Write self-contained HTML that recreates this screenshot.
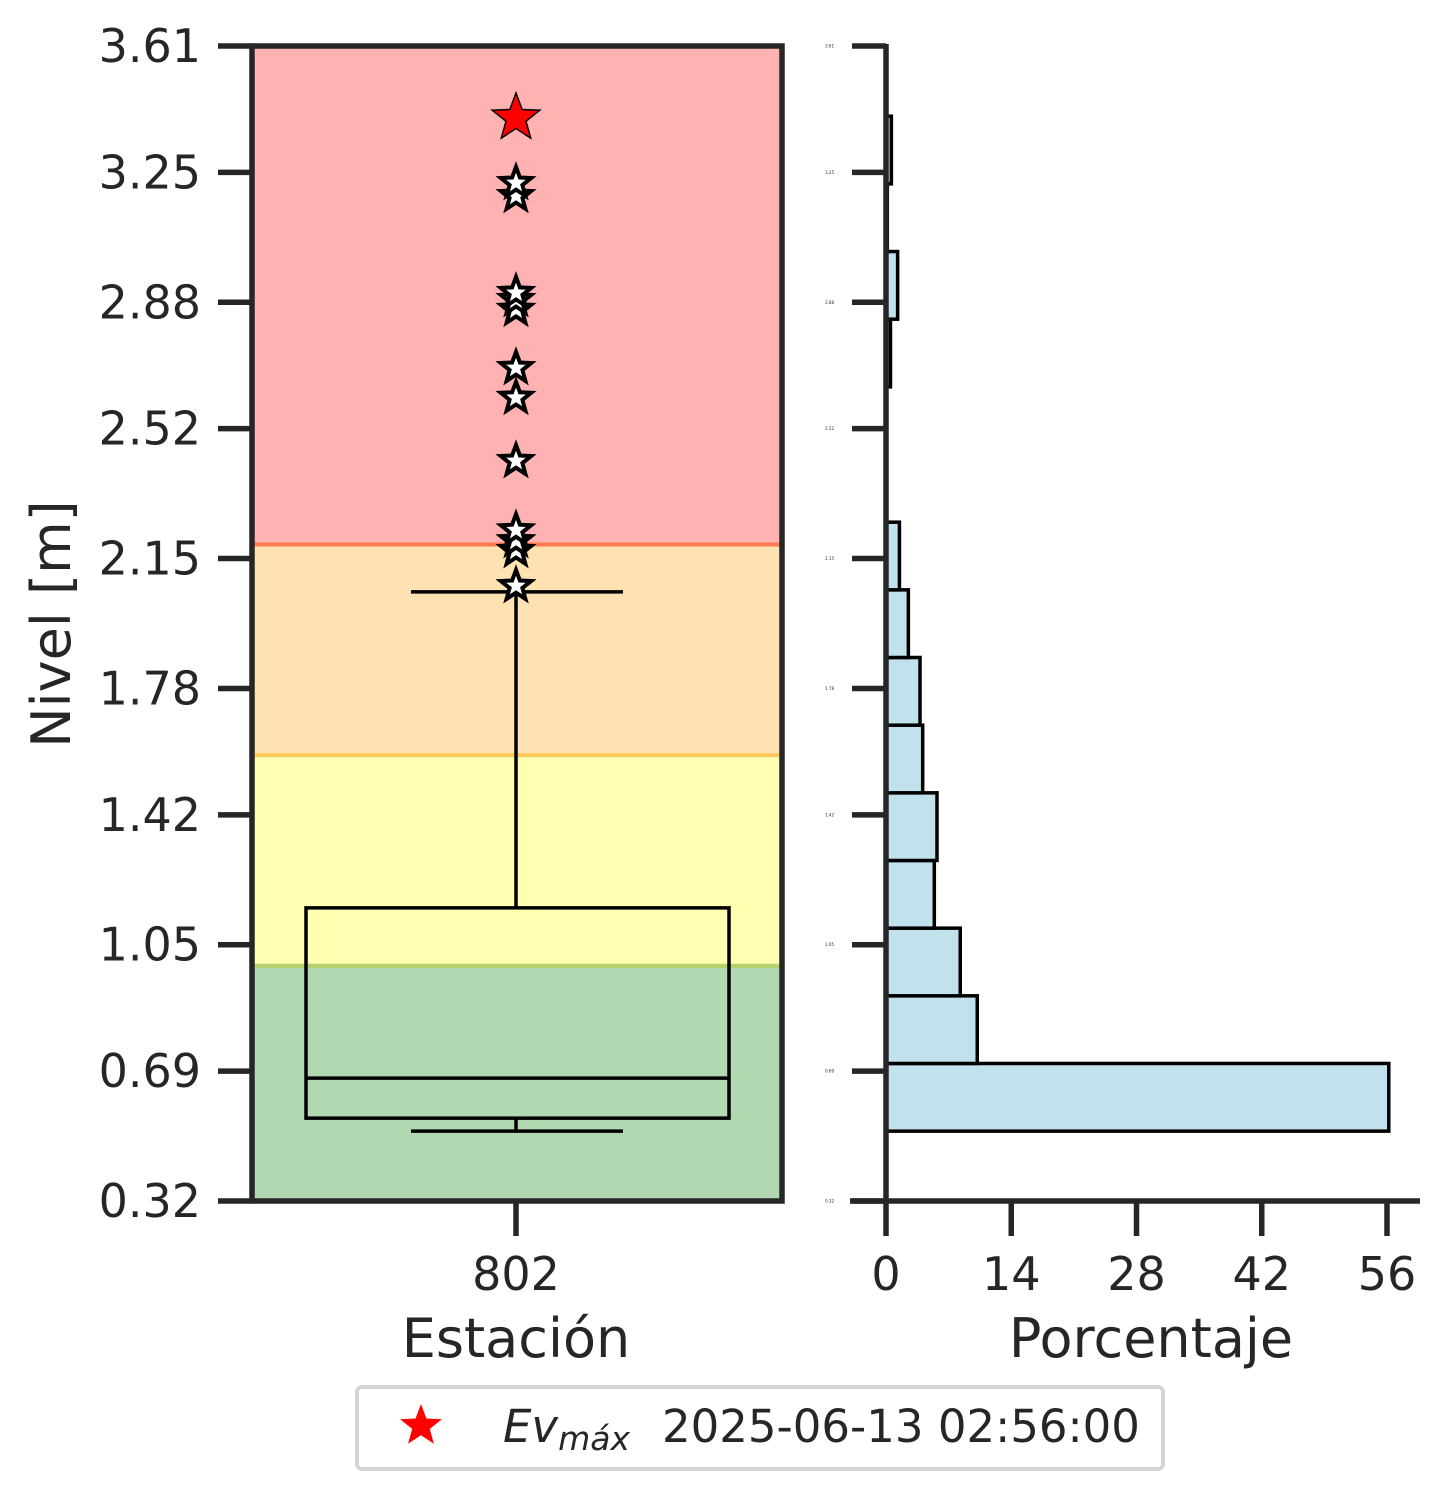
<!DOCTYPE html>
<html><head><meta charset="utf-8"><style>
html,body{margin:0;padding:0;background:#fff}
svg{display:block;font-family:"DejaVu Sans","Liberation Sans",sans-serif}
</style></head><body>
<svg id="c" width="1449" height="1499" viewBox="0 0 1449 1499" xmlns="http://www.w3.org/2000/svg"></svg>
<script>
const yTicks = [0.32, 0.69, 1.05, 1.42, 1.78, 2.15, 2.52, 2.88, 3.25, 3.61];
const yTickLabels = ["0.32","0.69","1.05","1.42","1.78","2.15","2.52","2.88","3.25","3.61"];
const bandEdges = [0.32, 0.99, 1.59, 2.19, 3.61];
const bandFill = ["#b2d8b2","#ffffb2","#ffe2b2","#ffb2b2"];
const bandLine = ["#b5d36a","#ffc95a","#ff7a50"];
const boxStats = {whislo:0.519, q1:0.556, med:0.67, q3:1.155, whishi:2.055};
const fliers = [2.072, 2.172, 2.200, 2.231, 2.428, 2.608, 2.693, 2.859, 2.887, 2.907, 3.183, 3.220];
const maxEvent = 3.405;
const histCounts = [56.2, 10.2, 8.3, 5.4, 5.7, 4.1, 3.8, 2.5, 1.5, 0, 0, 0.5, 1.3, 0.15, 0.6];
const histLo = 0.519, histHi = 3.41;
const xTicks = [0, 14, 28, 42, 56];

const svg = document.getElementById('c');
const NS = 'http://www.w3.org/2000/svg';
function mk(tag, attrs, parent){const e=document.createElementNS(NS,tag);for(const k in attrs)e.setAttribute(k,attrs[k]);(parent||svg).appendChild(e);return e;}
const Y0=1201, Y1=46;
function y(v){return Y0-(v-0.32)/(3.61-0.32)*(Y0-Y1);}
const LX0=252, LX1=782, CX=516;
const HX0=886, HX1=1387;
function hx(p){return HX0+p/56*(HX1-HX0);}

for(let i=0;i<bandFill.length;i++){
  const r=mk('rect',{x:LX0,y:y(bandEdges[i+1]),width:LX1-LX0,height:y(bandEdges[i])-y(bandEdges[i+1]),fill:bandFill[i]});
  
  
}
for(let i=0;i<bandLine.length;i++){
  const l=mk('line',{x1:LX0,x2:LX1,y1:y(bandEdges[i+1]),y2:y(bandEdges[i+1]),stroke:bandLine[i],'stroke-width':4});
  
  
}
const g=mk('g',{stroke:'#000','stroke-width':3.5,fill:'none'});


mk('line',{x1:CX,x2:CX,y1:y(boxStats.q3),y2:y(boxStats.whishi)},g);
mk('line',{x1:CX,x2:CX,y1:y(boxStats.q1),y2:y(boxStats.whislo)},g);
mk('line',{x1:411,x2:623,y1:y(boxStats.whishi),y2:y(boxStats.whishi)},g);
mk('line',{x1:411,x2:623,y1:y(boxStats.whislo),y2:y(boxStats.whislo)},g);
mk('rect',{x:306,width:423,y:y(boxStats.q3),height:y(boxStats.q1)-y(boxStats.q3)},g);
mk('line',{x1:306,x2:729,y1:y(boxStats.med),y2:y(boxStats.med)},g);
function starPts(cx,cy,R){const r=R*0.42;let p=[];for(let i=0;i<10;i++){const a=-Math.PI/2+i*Math.PI/5;const rr=i%2?r:R;p.push((cx+rr*Math.cos(a)).toFixed(1)+','+(cy+rr*Math.sin(a)).toFixed(1));}return p.join(' ');}
fliers.forEach((v,i)=>{
  const s=mk('polygon',{points:starPts(CX,y(v),16),fill:'#fff',stroke:'#000','stroke-width':4,'stroke-linejoin':'miter'});
  
  
});
const ms=mk('polygon',{points:starPts(CX,y(maxEvent),25),fill:'#ff0000',stroke:'#000','stroke-width':1.5});


const fr=mk('rect',{x:LX0,y:Y1,width:LX1-LX0,height:Y0-Y1,fill:'none',stroke:'#262626','stroke-width':5.5});


yTicks.forEach((v,i)=>{
  const t=mk('line',{x1:218,x2:LX0,y1:y(v),y2:y(v),stroke:'#262626','stroke-width':5.5});
  
  
  const tx=mk('text',{x:201,y:y(v)+16,'text-anchor':'end','font-size':46,fill:'#262626'});
  tx.textContent=yTickLabels[i];
  
  
  const t2=mk('line',{x1:852,x2:HX0,y1:y(v),y2:y(v),stroke:'#262626','stroke-width':5.5});
  
  
  const tx2=mk('text',{x:834,y:y(v)+1.5,'text-anchor':'end','font-size':4,fill:'#262626'});
  tx2.textContent=yTickLabels[i];
  
  
});
mk('line',{x1:CX,x2:CX,y1:Y0,y2:1236,stroke:'#262626','stroke-width':5.5});
const t802=mk('text',{x:CX,y:1290,'text-anchor':'middle','font-size':46,fill:'#262626'});t802.textContent='802';


const xl=mk('text',{x:CX,y:1357,'text-anchor':'middle','font-size':54,fill:'#262626'});xl.textContent='Estación';


const yl=mk('text',{x:0,y:0,'text-anchor':'middle','font-size':54,fill:'#262626',transform:'translate(70,624) rotate(-90)'});yl.textContent='Nivel [m]';



histCounts.forEach((p,i)=>{
  const lo=histLo+(histHi-histLo)*i/histCounts.length, hi=histLo+(histHi-histLo)*(i+1)/histCounts.length;
  const b=mk('rect',{x:HX0,y:y(hi),width:Math.max(hx(p)-HX0,0),height:y(lo)-y(hi),fill:'#c1e1ec',stroke:'#000','stroke-width':3.5});
  
  
});
mk('line',{x1:HX0,x2:HX0,y1:Y1-2,y2:Y0+2,stroke:'#262626','stroke-width':5.5});
mk('line',{x1:850,x2:1420,y1:Y0,y2:Y0,stroke:'#262626','stroke-width':5.5});
xTicks.forEach(v=>{
  const t=mk('line',{x1:hx(v),x2:hx(v),y1:Y0,y2:1236,stroke:'#262626','stroke-width':5.5});
  
  
  const tx=mk('text',{x:hx(v),y:1290,'text-anchor':'middle','font-size':46,fill:'#262626'});tx.textContent=String(v);
  
  
});
const pl=mk('text',{x:1151,y:1357,'text-anchor':'middle','font-size':54,fill:'#262626'});pl.textContent='Porcentaje';



const lg=mk('g',{});


mk('rect',{x:357,y:1387,width:806,height:82,rx:5,fill:'#fff',stroke:'#d6d6d6','stroke-width':4},lg);
mk('polygon',{points:starPts(421,1426,22),fill:'#ff0000'},lg);
const le=mk('text',{x:503,y:1442,'font-size':45,fill:'#262626'},lg);
le.innerHTML='<tspan font-style="italic">Ev</tspan><tspan font-style="italic" font-size="33" dy="8">máx</tspan>';
const ld=mk('text',{x:662,y:1442,'font-size':45,fill:'#262626'},lg);
ld.textContent='2025-06-13 02:56:00';
</script>
</body></html>
